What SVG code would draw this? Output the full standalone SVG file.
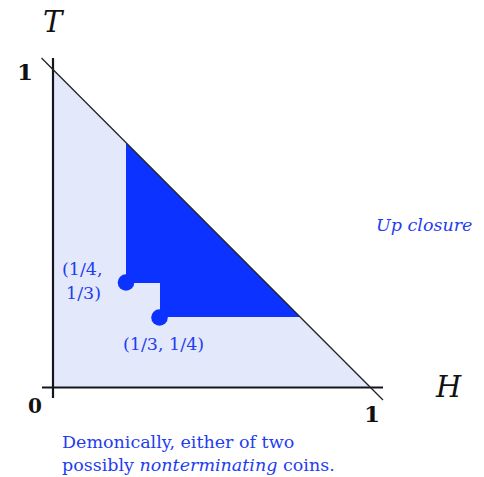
<svg xmlns="http://www.w3.org/2000/svg" width="484" height="477" viewBox="0 0 484 477">
<style>
.ax{stroke:#15151f;stroke-width:2.2;fill:none}
.diag{stroke:#222;stroke-width:1.3;fill:none}
.lbl{font-family:"DejaVu Serif","Liberation Serif",serif;fill:#111}
.math{font-family:"DejaVu Serif","Liberation Serif",serif;font-style:italic;fill:#111}
.blue{font-family:"DejaVu Serif","Liberation Serif",serif;fill:#1f3df0}
</style>
<rect width="484" height="477" fill="#ffffff"/>
<g id="region">
<polygon points="53,70 53,387.5 371,387.5" fill="#e4e8fb"/>
</g>
<g id="upclosure">
<polygon points="126,143 126,283 160,283 160,317 300,317" fill="#0b32ff"/>
<circle cx="126" cy="282.5" r="8.3" fill="#0b32ff"/>
<circle cx="159.5" cy="317.5" r="8.3" fill="#0b32ff"/>
</g>
<g id="axes">
<line class="ax" x1="53" y1="58" x2="53" y2="398"/>
<line class="ax" x1="42" y1="387.5" x2="383" y2="387.5"/>
<line class="diag" x1="41.5" y1="58" x2="383" y2="400"/>
</g>
<g id="axis-labels">
<text class="math" x="43" y="32" font-size="29">T</text>
<text class="math" x="436" y="397" font-size="29">H</text>
<text class="lbl" x="17" y="80" font-size="23" font-weight="bold">1</text>
<text class="lbl" x="28" y="413" font-size="20" font-weight="bold">0</text>
<text class="lbl" x="364" y="422" font-size="23" font-weight="bold">1</text>
</g>
<g id="point-labels">
<text class="blue" x="62" y="275" font-size="17.5">(1/4,</text>
<text class="blue" x="66" y="299" font-size="17.5">1/3)</text>
<text class="blue" x="123" y="350" font-size="17.5">(1/3, 1/4)</text>
</g>
<g id="captions">
<text class="blue" x="376" y="231" font-size="17.5" font-style="italic">Up closure</text>
<text class="blue" x="62" y="448" font-size="17.5">Demonically, either of two</text>
<text class="blue" x="62" y="471" font-size="17.5">possibly <tspan font-style="italic">nonterminating</tspan> coins.</text>
</g>
</svg>
